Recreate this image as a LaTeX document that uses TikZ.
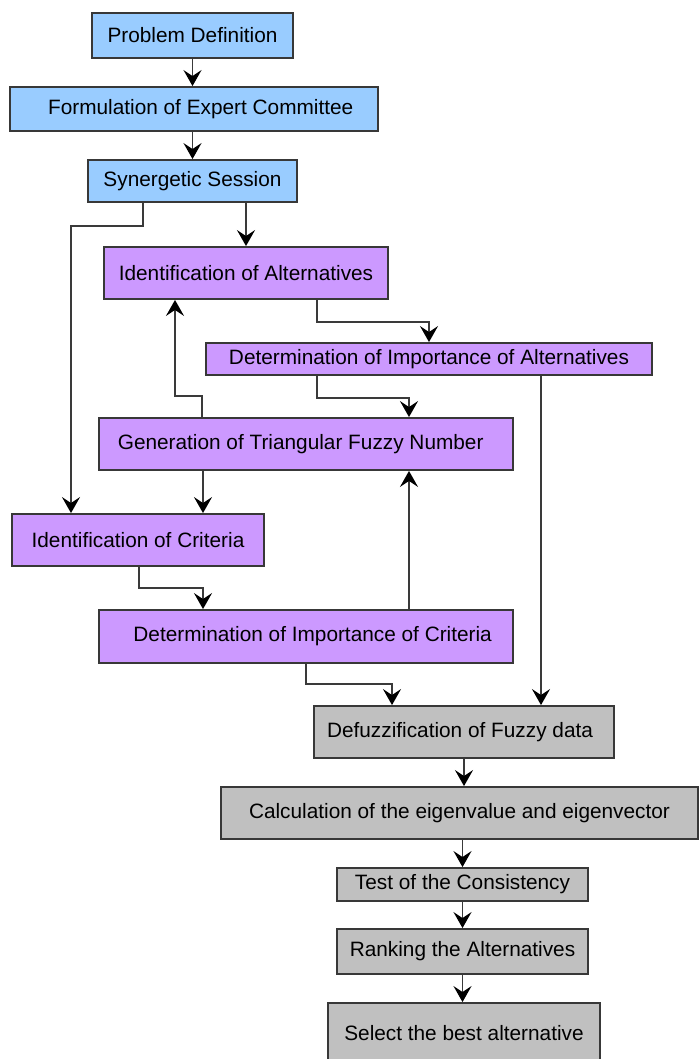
\documentclass[tikz,border=0pt]{standalone}
\usepackage{fontspec}
\setmainfont{Liberation Sans}
\usetikzlibrary{arrows.meta,calc}
\definecolor{bluefill}{HTML}{99CCFF}
\definecolor{purplefill}{HTML}{CC99FF}
\definecolor{grayfill}{HTML}{C0C0C0}
\definecolor{edgecol}{HTML}{383838}
\definecolor{linecol}{HTML}{3A3A3A}
\begin{document}
\begin{tikzpicture}[x=0.75pt,y=-0.75pt,
  box/.style={draw=edgecol,line width=1.4pt,inner sep=0pt,text=black,
    font=\fontsize{15.6}{18}\selectfont},
  bluebox/.style={box,fill=bluefill},
  purplebox/.style={box,fill=purplefill},
  graybox/.style={box,fill=grayfill},
  bw/.style={minimum width=#1*0.75pt},
  bh/.style={minimum height=#1*0.75pt},
  arr/.style={draw=linecol,line width=1.4pt,
    -{Stealth[length=12pt,width=13.5pt,inset=4.5pt,color=black,fill=black]}}]
\clip (0,0) rectangle (699,1059);
\fill[white] (0,0) rectangle (699,1059);
% nodes
\node[bluebox,bw=201,bh=45] (pd) at (192.5,35.5) {Problem Definition};
\node[bluebox,bw=368,bh=44] (fec) at (194,109) {\hspace*{10pt}Formulation of Expert Committee};
\node[bluebox,bw=209,bh=42] (ss) at (192.5,181) {Synergetic Session};
\node[purplebox,bw=284,bh=52] (ia) at (246,273) {Identification of Alternatives};
\node[purplebox,bw=446,bh=32] (dia) at (429,359) {Determination of Importance of Alternatives};
\node[purplebox,bw=414,bh=52] (gen) at (306,444) {Generation of Triangular Fuzzy Number\hspace*{8pt}};
\node[purplebox,bw=252,bh=52] (ic) at (138,540) {Identification of Criteria};
\node[purplebox,bw=414,bh=53] (dc) at (306,636.5) {\hspace*{10pt}Determination of Importance of Criteria};
\node[graybox,bw=300,bh=52] (df) at (464,732) {Defuzzification of Fuzzy data\hspace*{6pt}};
\node[graybox,bw=477,bh=52] (calc) at (459.5,813) {Calculation of the eigenvalue and eigenvector};
\node[graybox,bw=251,bh=33] (test) at (462.5,884.5) {Test of the Consistency};
\node[graybox,bw=251,bh=45] (rank) at (462.5,951.5) {Ranking the Alternatives};
\node[graybox,bw=272,bh=60] (sel) at (464,1033) {Select the best alternative};
% helper coordinates
\coordinate (g1) at ($(gen.south)+(-103,0)$);
\coordinate (d1) at ($(dc.north)+(103,0)$);
\coordinate (a1) at ($(dia.south)+(112,0)$);
% connectors
\draw[arr] (pd.south) -- (pd.south |- fec.north);
\draw[arr] (ss.north |- fec.south) -- (ss.north);
\draw[arr] (ia.north |- ss.south) -- (ia.north);
\draw[arr] ($(ss.south)+(-49.5,0)$) -- ++(0,23) -| ($(ic.north)+(-67,0)$);
\draw[arr] ($(ia.south)+(71,0)$) -- ++(0,22) -| (dia.north);
\draw[arr] ($(dia.south)+(-112,0)$) -- ++(0,22) -| ($(gen.north)+(103,0)$);
\draw[arr] ($(gen.north)+(-104,0)$) -- ++(0,-21) -| ($(ia.south)+(-71,0)$);
\draw[arr] (g1) -- (g1 |- ic.north);
\draw[arr] ($(ic.south)+(1,0)$) -- ++(0,21) -| ($(dc.north)+(-103,0)$);
\draw[arr] (d1) -- (d1 |- gen.south);
\draw[arr] (dc.south) -- ++(0,20) -| ($(df.north)+(-72,0)$);
\draw[arr] (a1) -- (a1 |- df.north);
\draw[arr] (df.south) -- (df.south |- calc.north);
\draw[arr] (test.north |- calc.south) -- (test.north);
\draw[arr] (test.south) -- (rank.north);
\draw[arr] (rank.south) -- (rank.south |- sel.north);
\end{tikzpicture}
\end{document}
